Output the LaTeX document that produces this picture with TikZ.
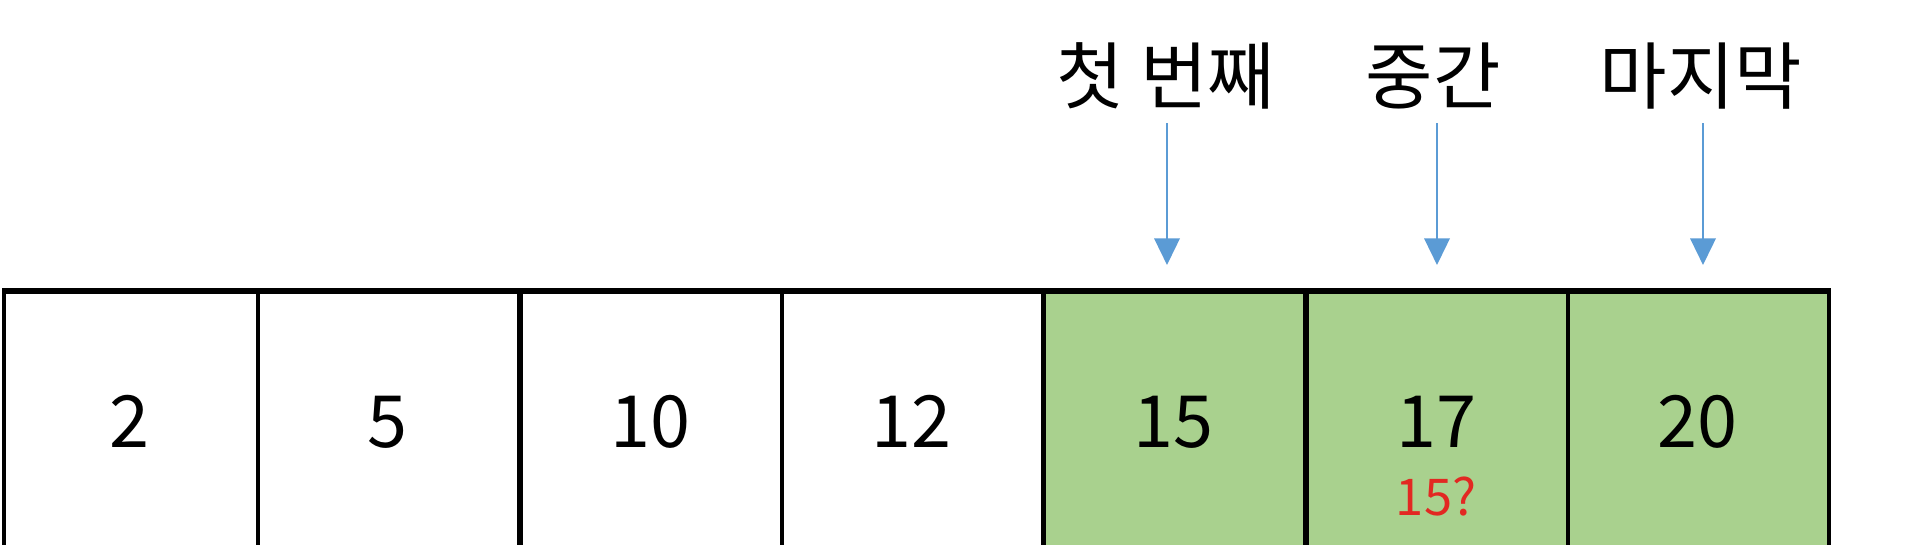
\documentclass[tikz,border=0pt]{standalone}
\usepackage{fontspec}
\setmainfont{Noto Sans CJK KR}
\usetikzlibrary{arrows.meta}
\definecolor{cellgreen}{HTML}{A9D18E}
\definecolor{arrowblue}{HTML}{5B9BD5}
\definecolor{qred}{RGB}{226,40,34}
\tikzset{
  cellbox/.style={draw=black, line width=3pt, minimum width=196pt, minimum height=220pt, inner sep=0pt, anchor=north west},
  plaincell/.style={cellbox, fill=white},
  greencell/.style={cellbox, fill=cellgreen},
  numtext/.style={font=\fontsize{54}{60}\selectfont, anchor=base, inner sep=0pt},
  qtext/.style={font=\fontsize{38}{44}\selectfont, anchor=base, inner sep=0pt, text=qred},
  labeltext/.style={font=\fontsize{55}{62}\selectfont, anchor=base, inner sep=0pt},
  pointer/.style={draw=arrowblue, line width=1.9pt, -{Triangle[length=20pt,width=19pt]}}
}
\begin{document}
\begin{tikzpicture}[x=0.75pt,y=-0.75pt]
\clip (0,0) rectangle (1920,544);
\fill[white] (0,0) rectangle (1920,544);
% cells
\node[plaincell] (c1) at (2,290) {};
\node[plaincell] (c2) at (256,290) {};
\node[plaincell] (c3) at (519,290) {};
\node[plaincell] (c4) at (780,290) {};
\node[greencell] (c5) at (1042,290) {};
\node[greencell] (c6) at (1305,290) {};
\node[greencell] (c7) at (1566,290) {};
\draw[line width=3pt] (c1.north west) -- (c7.north east);
% numbers
\node[numtext] (n1) at (129,447) {2};
\node[numtext] (n2) at (387,447) {5};
\node[numtext] (n3) at (650,447) {10};
\node[numtext] (n4) at (911,447) {12};
\node[numtext] (n5) at (1173,447) {15};
\node[numtext] (n6) at (1436,447) {17};
\node[numtext] (n7) at (1697,447) {20};
\node[qtext] (q6) at (1436,515) {15?};
% labels
\node[labeltext] (l1) at (1166,103) {첫 번째};
\node[labeltext] (l2) at (1433,103) {중간};
\node[labeltext] (l3) at (1701,103) {마지막};
% arrows
\coordinate (s1) at (1167,123); \coordinate (e1) at (1167,265);
\coordinate (s2) at (1437,123); \coordinate (e2) at (1437,265);
\coordinate (s3) at (1703,123); \coordinate (e3) at (1703,265);
\draw[pointer] (s1) -- (e1);
\draw[pointer] (s2) -- (e2);
\draw[pointer] (s3) -- (e3);
\end{tikzpicture}
\end{document}
